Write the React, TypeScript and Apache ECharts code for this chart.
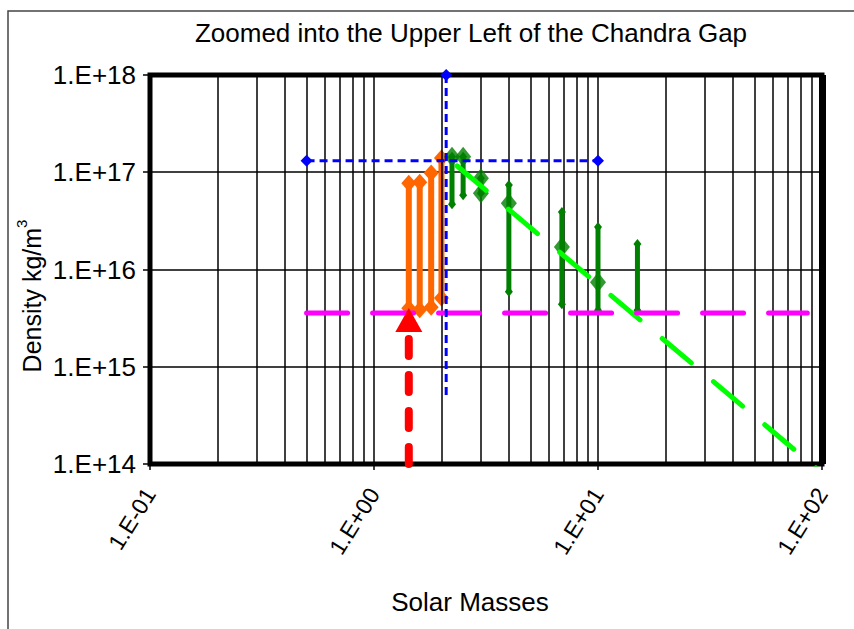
import React, { useEffect, useRef } from "react";
import * as echarts from "echarts";

const titleText = "Zoomed into the Upper Left of the Chandra Gap";
const xAxisName = "Solar Masses";
const yAxisNameMain = "Density kg/m";
const yAxisNameSup = "3";

const xTickLabels = ["1.E-01", "1.E+00", "1.E+01", "1.E+02"];
const yTickLabels = ["1.E+14", "1.E+15", "1.E+16", "1.E+17", "1.E+18"];

const minorGridMasses = [
  0.2, 0.3, 0.4, 0.5, 0.6, 0.7, 0.8, 0.9,
  2, 3, 4, 5, 6, 7, 8, 9,
  20, 30, 40, 50, 60, 70, 80, 90,
];
const rightEdgeMass = [100];

// orange vertical ranges
const orangeMass = [1.43, 1.6, 1.8, 2.0];
const orangeLow = [4.0e15, 3.85e15, 4.1e15, 5.1e15];
const orangeHigh = [7.7e16, 7.9e16, 9.8e16, 1.4e17];

// green vertical ranges
const greenMass = [2.23, 2.5, 3.0, 4.0, 6.9, 10, 15];
const greenLow = [4.7e16, 5.8e16, 6.1e16, 5.9e15, 4.4e15, 3.8e15, 3.8e15];
const greenHigh = [1.44e17, 1.44e17, 8.7e16, 7.4e16, 3.9e16, 2.74e16, 1.83e16];

// green big diamonds
const greenPointMass = [2.23, 2.5, 3.0, 3.0, 4.0, 6.9, 10];
const greenPointDensity = [1.44e17, 1.44e17, 8.7e16, 6.1e16, 4.8e16, 1.7e16, 7.4e15];

// light green dashed trend
const trendMass = [2.35, 100];
const trendDensity = [1.16e17, 8.1e13];

// magenta dashed level
const levelMass = [0.5, 86];
const levelDensity = [3.57e15, 3.57e15];

// blue dashed cross
const crossHMass = [0.5, 10];
const crossHDensity = [1.31e17, 1.31e17];
const crossVMass = [2.1, 2.1];
const crossVDensity = [1e18, 5.1e14];

// red dashed arrow (Chandrasekhar limit)
const arrowMass = [1.43, 1.43];
const arrowDensity = [1e14, 3.03e15];

const font = "'Liberation Sans', Arial, sans-serif";

function diamond(p: number[], w: number, h: number, color: string) {
  return {
    type: "polygon",
    shape: {
      points: [
        [p[0], p[1] - h / 2],
        [p[0] + w / 2, p[1]],
        [p[0], p[1] + h / 2],
        [p[0] - w / 2, p[1]],
      ],
    },
    style: { fill: color },
  };
}

function rangeRenderer(color: string, lineWidth: number, capW: number, capH: number) {
  return (params: any, api: any) => {
    const x = api.value(0);
    const lo = api.coord([x, api.value(1)]);
    const hi = api.coord([x, api.value(2)]);
    return {
      type: "group",
      children: [
        {
          type: "line",
          shape: { x1: lo[0], y1: lo[1], x2: hi[0], y2: hi[1] },
          style: { stroke: color, lineWidth },
        },
        diamond(lo, capW, capH, color),
        diamond(hi, capW, capH, color),
      ],
    };
  };
}

const pairs = (xs: number[], ys: number[]) => xs.map((x, i) => [x, ys[i]]);

const gridLine = { color: "#000", width: 1.5 };

const option: any = {
  animation: false,
  backgroundColor: "#fff",
  grid: {
    left: 150,
    right: 32,
    top: 75,
    bottom: 165,
    show: true,
    borderColor: "#000",
    borderWidth: 5,
    backgroundColor: "transparent",
    z: 2,
  },
  xAxis: {
    type: "log",
    logBase: 10,
    min: 0.1,
    max: 100,
    axisLine: { show: false },
    axisTick: { show: true, length: 6, lineStyle: gridLine },
    splitLine: { show: true, lineStyle: gridLine },
    axisLabel: {
      rotate: 58,
      margin: 26,
      fontSize: 23,
      color: "#000",
      fontFamily: font,
      formatter: (v: number) => xTickLabels[Math.round(Math.log10(v)) + 1],
    },
  },
  yAxis: {
    type: "log",
    logBase: 10,
    min: 1e14,
    max: 1e18,
    axisLine: { show: false },
    axisTick: { show: true, length: 7, lineStyle: gridLine },
    splitLine: { show: true, lineStyle: gridLine },
    axisLabel: {
      margin: 14,
      fontSize: 26,
      color: "#000",
      fontFamily: font,
      formatter: (v: number) => yTickLabels[Math.round(Math.log10(v)) - 14],
    },
  },
  graphic: [
    {
      type: "rect",
      z: -1,
      shape: { x: 8, y: 11, width: 900, height: 700 },
      style: { fill: "none", stroke: "#444", lineWidth: 1.5 },
    },
    {
      type: "text",
      x: 471,
      y: 33,
      style: {
        text: titleText,
        fontSize: 26,
        fontFamily: font,
        fill: "#000",
        align: "center",
        verticalAlign: "middle",
      },
    },
    {
      type: "text",
      x: 470,
      y: 602,
      style: {
        text: xAxisName,
        fontSize: 26,
        fontFamily: font,
        fill: "#000",
        align: "center",
        verticalAlign: "middle",
      },
    },
    {
      type: "text",
      x: 29,
      y: 296,
      rotation: Math.PI / 2,
      style: {
        text: "{a|" + yAxisNameMain + "}{b|" + yAxisNameSup + "}",
        fontFamily: font,
        fill: "#000",
        align: "center",
        verticalAlign: "middle",
        rich: {
          a: { fontSize: 25, fontFamily: font, fill: "#000", verticalAlign: "bottom", lineHeight: 30 },
          b: { fontSize: 15, fontFamily: font, fill: "#000", verticalAlign: "top", lineHeight: 30 },
        },
      },
    },
  ],
  series: [
    {
      type: "line",
      data: [],
      z: 1,
      silent: true,
      markLine: {
        silent: true,
        animation: false,
        symbol: ["none", "none"],
        label: { show: false },
        lineStyle: { color: "#000", width: 1.5, type: "solid" },
        data: [
          ...minorGridMasses.map((m) => ({ xAxis: m })),
          ...rightEdgeMass.map((m) => ({ xAxis: m, lineStyle: { color: "#000", width: 7, type: "solid" } })),
        ],
      },
    },
    {
      type: "custom",
      z: 4,
      renderItem: rangeRenderer("#FF6600", 6, 15, 17),
      encode: { x: 0, y: [1, 2] },
      data: orangeMass.map((m, i) => [m, orangeLow[i], orangeHigh[i]]),
    },
    {
      type: "custom",
      z: 5,
      renderItem: rangeRenderer("#008000", 5, 8, 10),
      encode: { x: 0, y: [1, 2] },
      data: greenMass.map((m, i) => [m, greenLow[i], greenHigh[i]]),
    },
    {
      type: "scatter",
      z: 5,
      symbol: "diamond",
      symbolSize: [16, 20],
      itemStyle: { color: "#008000" },
      data: pairs(greenPointMass, greenPointDensity),
    },
    {
      type: "line",
      z: 6,
      symbol: "none",
      lineStyle: { color: "#00FF00", width: 5, type: [38, 29], cap: "round" },
      data: pairs(trendMass, trendDensity),
    },
    {
      type: "line",
      z: 7,
      symbol: "none",
      lineStyle: { color: "#FF00FF", width: 5, type: [41, 25], cap: "round" },
      data: pairs(levelMass, levelDensity),
    },
    {
      type: "line",
      z: 8,
      symbol: "diamond",
      symbolSize: 12,
      showSymbol: true,
      itemStyle: { color: "#0000FF" },
      lineStyle: { color: "#0000FF", width: 3, type: [8, 5] },
      data: pairs(crossHMass, crossHDensity),
    },
    {
      type: "line",
      z: 8,
      symbol: "diamond",
      symbolSize: 12,
      showSymbol: true,
      itemStyle: { color: "#0000FF" },
      lineStyle: { color: "#0000FF", width: 3, type: [8, 5] },
      data: [
        { value: [crossVMass[0], crossVDensity[0]] },
        { value: [crossVMass[1], crossVDensity[1]], symbol: "none" },
      ],
    },
    {
      type: "line",
      z: 9,
      showSymbol: true,
      itemStyle: { color: "#FF0000" },
      lineStyle: { color: "#FF0000", width: 8, type: [17, 19], cap: "round" },
      data: [
        { value: [arrowMass[0], arrowDensity[0]], symbol: "none" },
        { value: [arrowMass[1], arrowDensity[1]], symbol: "triangle", symbolSize: [27, 24] },
      ],
    },
  ],
};

export default function App() {
  const ref = useRef<HTMLDivElement>(null);
  useEffect(() => {
    const chart = echarts.init(ref.current!, null, { renderer: "svg" });
    chart.setOption(option);
    return () => chart.dispose();
  }, []);
  return (
    <div
      ref={ref}
      style={{ position: "fixed", left: 0, top: 0, width: 854, height: 629, background: "#fff" }}
    />
  );
}
